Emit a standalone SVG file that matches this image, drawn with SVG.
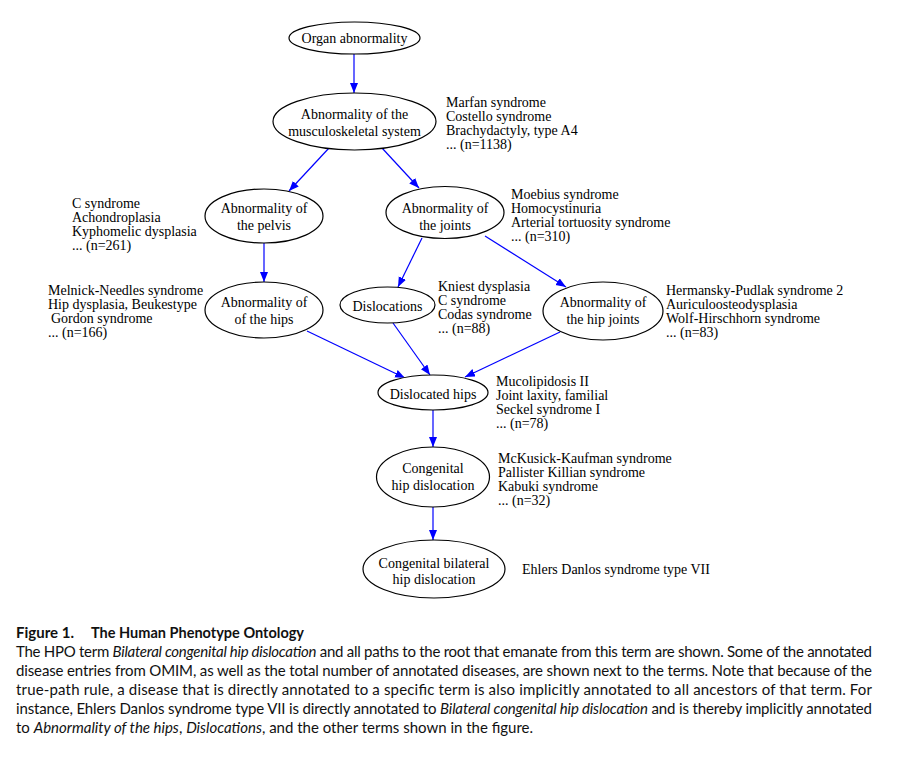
<svg xmlns="http://www.w3.org/2000/svg" width="922" height="763" viewBox="0 0 922 763">
<defs>
<marker id="ah" markerUnits="userSpaceOnUse" markerWidth="11" markerHeight="9" refX="10" refY="4" orient="auto">
<path d="M0,0 L10,4 L0,8 z" fill="#0000ff"/>
</marker>
<style>
.n ellipse{fill:#fff;stroke:#000;stroke-width:1.2}
.t{font-family:"Liberation Serif","Times New Roman",serif;font-size:14px;fill:#000}
.c{text-anchor:middle}
#edges line{stroke:#0000ff;stroke-width:1.2;marker-end:url(#ah)}
.cap{font-family:Lato,"Noto Sans",sans-serif;font-size:15px;fill:#111}
.b{font-weight:bold}
.i{font-style:italic}
</style>
</defs>
<rect width="922" height="763" fill="#fff"/>
<g id="edges">
<line x1="354" y1="54" x2="354" y2="93"/>
<line x1="329" y1="148" x2="289" y2="191"/>
<line x1="382" y1="148" x2="419" y2="188"/>
<line x1="264" y1="243" x2="264" y2="282"/>
<line x1="422" y1="238" x2="398" y2="287"/>
<line x1="485" y1="236" x2="566" y2="287"/>
<line x1="307" y1="331" x2="405" y2="378"/>
<line x1="393" y1="323" x2="430" y2="375"/>
<line x1="560" y1="332" x2="465" y2="377"/>
<line x1="433" y1="410" x2="433" y2="447"/>
<line x1="433" y1="507" x2="433" y2="540"/>
</g>
<g id="organ" class="n"><ellipse cx="354.5" cy="38" rx="65.5" ry="16"/><text class="t c" x="354.5" y="43">Organ abnormality</text></g>
<g id="musculoskeletal" class="n"><ellipse cx="354.5" cy="121.5" rx="81.5" ry="28.5"/><text class="t c" x="354.5" y="119">Abnormality of the</text><text class="t c" x="354.5" y="136">musculoskeletal system</text></g>
<g id="musculoskeletal-list"><text class="t" x="446" y="107">Marfan syndrome</text><text class="t" x="446" y="121">Costello syndrome</text><text class="t" x="446" y="135">Brachydactyly, type A4</text><text class="t" x="446" y="149">... (n=1138)</text></g>
<g id="pelvis" class="n"><ellipse cx="264" cy="216" rx="59" ry="27"/><text class="t c" x="264" y="213">Abnormality of</text><text class="t c" x="264" y="230">the pelvis</text></g>
<g id="pelvis-list"><text class="t" x="72" y="208">C syndrome</text><text class="t" x="72" y="222">Achondroplasia</text><text class="t" x="72" y="236">Kyphomelic dysplasia</text><text class="t" x="72" y="250">... (n=261)</text></g>
<g id="joints" class="n"><ellipse cx="445" cy="212.5" rx="59" ry="26"/><text class="t c" x="445" y="213">Abnormality of</text><text class="t c" x="445" y="230">the joints</text></g>
<g id="joints-list"><text class="t" x="511" y="199">Moebius syndrome</text><text class="t" x="511" y="213">Homocystinuria</text><text class="t" x="511" y="227">Arterial tortuosity syndrome</text><text class="t" x="511" y="241">... (n=310)</text></g>
<g id="hips" class="n"><ellipse cx="264" cy="310" rx="59" ry="28"/><text class="t c" x="264" y="307">Abnormality of</text><text class="t c" x="264" y="324">of the hips</text></g>
<g id="hips-list"><text class="t" x="48" y="295">Melnick-Needles syndrome</text><text class="t" x="48" y="309">Hip dysplasia, Beukestype</text><text class="t" x="51" y="323">Gordon syndrome</text><text class="t" x="48" y="337">... (n=166)</text></g>
<g id="dislocations" class="n"><ellipse cx="387.5" cy="305" rx="47.5" ry="18"/><text class="t c" x="387.5" y="311">Dislocations</text></g>
<g id="dislocations-list"><text class="t" x="438" y="291">Kniest dysplasia</text><text class="t" x="438" y="305">C syndrome</text><text class="t" x="438" y="319">Codas syndrome</text><text class="t" x="438" y="333">... (n=88)</text></g>
<g id="hipjoints" class="n"><ellipse cx="603" cy="311" rx="60" ry="29"/><text class="t c" x="603" y="307">Abnormality of</text><text class="t c" x="603" y="324">the hip joints</text></g>
<g id="hipjoints-list"><text class="t" x="666" y="295">Hermansky-Pudlak syndrome 2</text><text class="t" x="666" y="309">Auriculoosteodysplasia</text><text class="t" x="666" y="323">Wolf-Hirschhorn syndrome</text><text class="t" x="666" y="337">... (n=83)</text></g>
<g id="dislocatedhips" class="n"><ellipse cx="433" cy="392.5" rx="55" ry="17.5"/><text class="t c" x="433" y="399">Dislocated hips</text></g>
<g id="dislocatedhips-list"><text class="t" x="496" y="386">Mucolipidosis II</text><text class="t" x="496" y="400">Joint laxity, familial</text><text class="t" x="496" y="414">Seckel syndrome I</text><text class="t" x="496" y="428">... (n=78)</text></g>
<g id="congenital" class="n"><ellipse cx="433" cy="477" rx="56.5" ry="30"/><text class="t c" x="433" y="473">Congenital</text><text class="t c" x="433" y="490">hip dislocation</text></g>
<g id="congenital-list"><text class="t" x="498" y="463">McKusick-Kaufman syndrome</text><text class="t" x="498" y="477">Pallister Killian syndrome</text><text class="t" x="498" y="491">Kabuki syndrome</text><text class="t" x="498" y="505">... (n=32)</text></g>
<g id="bilateral" class="n"><ellipse cx="434" cy="569" rx="71" ry="29"/><text class="t c" x="434" y="568">Congenital bilateral</text><text class="t c" x="434" y="584">hip dislocation</text></g>
<g id="bilateral-list"><text class="t" x="522" y="574">Ehlers Danlos syndrome type VII</text></g>
<g id="caption">
<text class="cap b" x="16" y="638">Figure 1.</text>
<text class="cap b" x="91" y="638" textLength="213" lengthAdjust="spacingAndGlyphs">The Human Phenotype Ontology</text>
<text class="cap" x="16" y="657" textLength="856">The HPO term <tspan class="i">Bilateral congenital hip dislocation</tspan> and all paths to the root that emanate from this term are shown. Some of the annotated</text>
<text class="cap" x="16" y="676" textLength="856">disease entries from OMIM, as well as the total number of annotated diseases, are shown next to the terms. Note that because of the</text>
<text class="cap" x="16" y="695" textLength="856">true-path rule, a disease that is directly annotated to a specific term is also implicitly annotated to all ancestors of that term. For</text>
<text class="cap" x="16" y="714" textLength="856">instance, Ehlers Danlos syndrome type VII is directly annotated to <tspan class="i">Bilateral congenital hip dislocation</tspan> and is thereby implicitly annotated</text>
<text class="cap" x="16" y="733">to <tspan class="i">Abnormality of the hips</tspan>, <tspan class="i">Dislocations</tspan>, and the other terms shown in the figure.</text>
</g>
</svg>
